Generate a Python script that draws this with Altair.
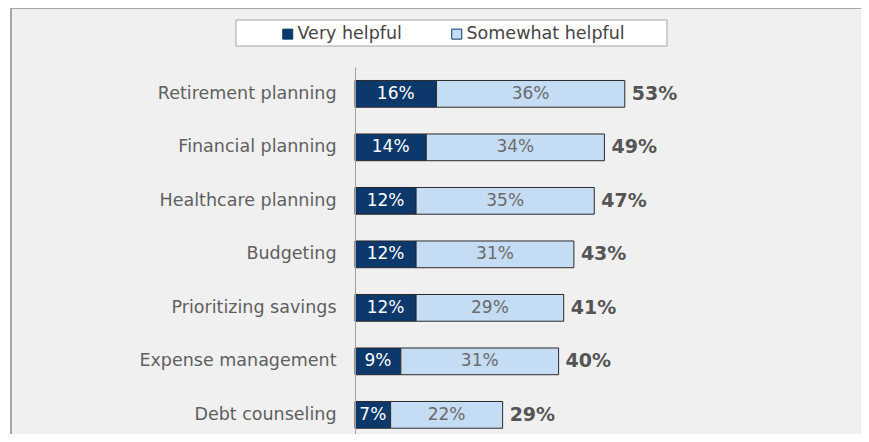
import altair as alt
import pandas as pd

categories = ["Retirement planning", "Financial planning", "Healthcare planning",
              "Budgeting", "Prioritizing savings", "Expense management", "Debt counseling"]
very = [16, 14, 12, 12, 12, 9, 7]
somewhat = [36, 34, 35, 31, 29, 31, 22]
total = [53, 49, 47, 43, 41, 40, 29]
series_names = ["Very helpful", "Somewhat helpful"]

DARK = "#0c386b"
LIGHT = "#c5dcf5"
FONT = "DejaVu Sans"
W, H = 506, 367

rows = []
for c, v, s, t in zip(categories, very, somewhat, total):
    rows.append({"cat": c, "series": series_names[0], "start": 0, "end": v, "label": f"{v}%"})
    rows.append({"cat": c, "series": series_names[1], "start": v, "end": t, "label": f"{s}%"})
long_df = pd.DataFrame(rows)
long_df["mid"] = (long_df["start"] + long_df["end"]) / 2
tot_df = pd.DataFrame({"cat": categories, "total": total,
                       "label": [f"{t}%" for t in total]})

yenc = alt.Y("cat:N", sort=categories,
             scale=alt.Scale(paddingInner=0.5, paddingOuter=0.18, align=0.7),
             axis=alt.Axis(title=None, ticks=False, labelPadding=19, labelFontSize=17.5,
                           labelColor="#5f5f5f", labelFont=FONT, domainColor="#a0a0a0",
                           domainWidth=1, grid=False, zindex=1, labelLimit=400))
xscale = alt.Scale(domain=[0, 99.4], nice=False, zero=True)

one = pd.DataFrame({"a": [0]})
panel = alt.Chart(one).mark_rect(fill="#f0f0f0").encode(
    x=alt.value(-345), x2=alt.value(W), y=alt.value(-60), y2=alt.value(H))
top_border = alt.Chart(one).mark_rule(color="#a6a6a6", strokeWidth=2).encode(
    x=alt.value(-345), x2=alt.value(W), y=alt.value(-59))
left_border = alt.Chart(one).mark_rule(color="#a6a6a6", strokeWidth=2).encode(
    x=alt.value(-344), y=alt.value(-60), y2=alt.value(H))
legbox = alt.Chart(one).mark_rect(fill="white", stroke="#a6a6a6", strokeWidth=1).encode(
    x=alt.value(-119), x2=alt.value(312), y=alt.value(-47), y2=alt.value(-21))

bars = alt.Chart(long_df).mark_bar(stroke="#2a2a2a", strokeWidth=1).encode(
    y=yenc,
    x=alt.X("start:Q", scale=xscale, axis=None),
    x2="end:Q",
    color=alt.Color("series:N", sort=series_names,
                    scale=alt.Scale(domain=series_names, range=[DARK, LIGHT]),
                    legend=alt.Legend(title=None, orient="none", legendX=-76, legendY=-42,
                                      direction="horizontal", symbolType="square",
                                      symbolSize=100, symbolStrokeColor=DARK,
                                      symbolStrokeWidth=1, labelFontSize=17.5,
                                      labelFont=FONT, labelColor="#454545",
                                      labelOffset=1, columnPadding=46, zindex=1)),
)

inner = alt.Chart(long_df).mark_text(font=FONT, fontSize=17, baseline="middle",
                                     align="center").encode(
    y=alt.Y("cat:N", sort=categories),
    x=alt.X("mid:Q", scale=xscale),
    text="label:N",
    color=alt.condition(alt.datum.series == "Very helpful", alt.value("white"),
                        alt.value("#6b6b6b")),
)

totals = alt.Chart(tot_df).mark_text(font=FONT, fontSize=19, fontWeight="bold",
                                     baseline="middle", align="left", dx=7,
                                     color="#555555").encode(
    y=alt.Y("cat:N", sort=categories),
    x=alt.X("total:Q", scale=xscale),
    text="label:N",
)

chart = alt.layer(panel, top_border, left_border, legbox, bars, inner, totals).properties(
    width=W, height=H,
    padding={"left": 347, "top": 59, "right": 0, "bottom": 0},
    autosize="none", background="white",
).configure_view(stroke=None)

chart.save("out.html", embed_options={"renderer": "svg", "actions": False})
